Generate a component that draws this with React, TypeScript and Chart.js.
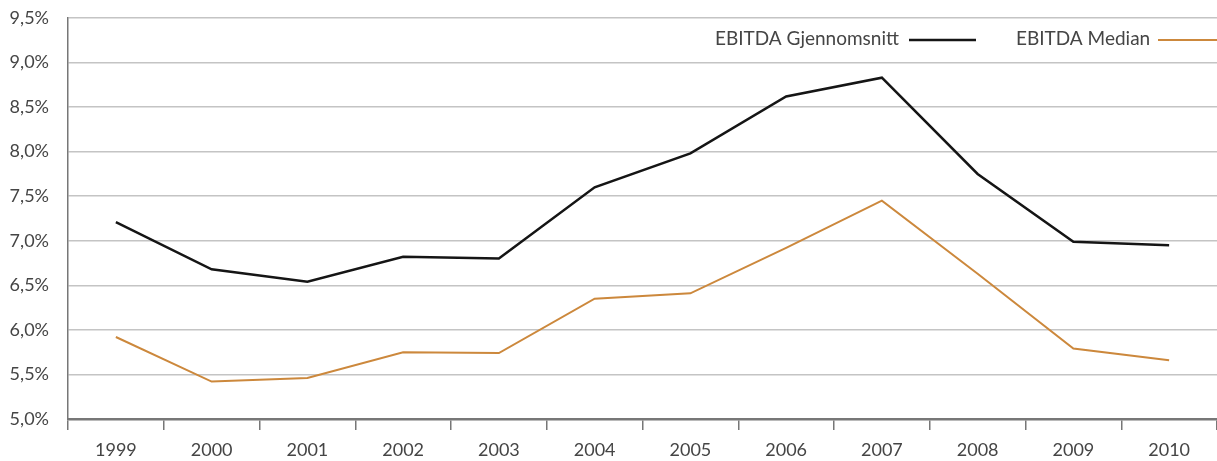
import React, { useEffect, useRef } from "react";
import { Chart, registerables } from "chart.js";

Chart.register(...registerables);

const years = ["1999", "2000", "2001", "2002", "2003", "2004", "2005", "2006", "2007", "2008", "2009", "2010"];
const gjennomsnitt = [7.21, 6.68, 6.54, 6.82, 6.8, 7.6, 7.98, 8.62, 8.83, 7.75, 6.99, 6.95];
const median = [5.92, 5.42, 5.46, 5.75, 5.74, 6.35, 6.41, 6.92, 7.45, 6.63, 5.79, 5.66];
const seriesNames = ["EBITDA Gjennomsnitt", "EBITDA Median"];
const yMin = 5.0;
const yMax = 9.5;
const yStep = 0.5;

const BLACK = "#151515";
const ORANGE = "#cc883c";
const TEXT = "#454545";
const FONT = "Lato, 'Open Sans', sans-serif";

const legendPlugin = {
  id: "customLegend",
  afterDraw(chart: any) {
    const ctx = chart.ctx;
    ctx.save();
    ctx.font = `19px ${FONT}`;
    ctx.fillStyle = TEXT;
    ctx.textBaseline = "middle";
    ctx.textAlign = "left";
    const y = 39;
    ctx.fillText(seriesNames[0], 715, y);
    ctx.strokeStyle = BLACK;
    ctx.lineWidth = 2.5;
    ctx.beginPath();
    ctx.moveTo(909, y + 1);
    ctx.lineTo(976, y + 1);
    ctx.stroke();
    ctx.fillText(seriesNames[1], 1016, y);
    ctx.strokeStyle = ORANGE;
    ctx.lineWidth = 2;
    ctx.beginPath();
    ctx.moveTo(1158, y + 1);
    ctx.lineTo(1217, y + 1);
    ctx.stroke();
    ctx.restore();
  },
};

export default function App() {
  const ref = useRef<HTMLCanvasElement | null>(null);
  useEffect(() => {
    document.body.style.margin = "0";
    if (!ref.current) return;
    const chart = new Chart(ref.current, {
      type: "line",
      data: {
        labels: years,
        datasets: [
          {
            label: seriesNames[0],
            data: gjennomsnitt,
            borderColor: BLACK,
            borderWidth: 2.5,
            pointRadius: 0,
            tension: 0,
          },
          {
            label: seriesNames[1],
            data: median,
            borderColor: ORANGE,
            borderWidth: 2,
            pointRadius: 0,
            tension: 0,
          },
        ],
      },
      options: {
        animation: false,
        responsive: false,
        layout: { padding: { top: 18, right: 0, left: 0, bottom: 0 } },
        plugins: { legend: { display: false }, tooltip: { enabled: false } },
        scales: {
          x: {
            offset: true,
            grid: {
              offset: true,
              drawOnChartArea: false,
              drawTicks: true,
              tickLength: 11,
              color: "#777777",
              lineWidth: 1.5,
            },
            border: { display: true, color: "#777777", width: 2.5 },
            ticks: {
              color: TEXT,
              font: { family: FONT, size: 18 },
              padding: 9,
              maxRotation: 0,
            },
            afterFit(scale: any) {
              scale.height = 42;
            },
          },
          y: {
            min: yMin,
            max: yMax,
            grid: {
              color: "#c4c4c4",
              lineWidth: 1.5,
              drawTicks: true,
              tickLength: 19,
              tickColor: "rgba(0,0,0,0)",
            },
            border: { display: true, color: "#777777", width: 1.5 },
            ticks: {
              stepSize: yStep,
              color: TEXT,
              font: { family: FONT, size: 18 },
              padding: 0,
              callback: (v: any) => Number(v).toFixed(1).replace(".", ",") + "%",
            },
            afterFit(scale: any) {
              scale.width = 68;
            },
          },
        },
      },
      plugins: [legendPlugin],
    });
    return () => chart.destroy();
  }, []);
  return (
    <div style={{ width: 1217, height: 461 }}>
      <canvas ref={ref} width={1217} height={461} style={{ display: "block" }} />
    </div>
  );
}
